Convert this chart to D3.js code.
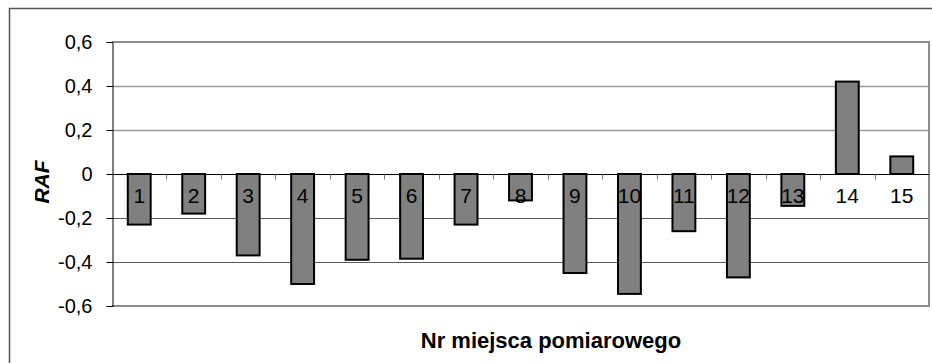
<!DOCTYPE html>
<html>
<head>
<meta charset="utf-8">
<script src="https://cdn.jsdelivr.net/npm/d3@7"></script>
<style>
  html, body { margin: 0; padding: 0; background: #fff; }
  svg { display: block; font-family: "Liberation Sans", Arial, sans-serif; }
</style>
</head>
<body>
<div id="chart"></div>
<script>
// ===== Data =====
const sites = ["1", "2", "3", "4", "5", "6", "7", "8", "9", "10", "11", "12", "13", "14", "15"];
const rafValues = [-0.23, -0.18, -0.37, -0.50, -0.39, -0.385, -0.23, -0.12, -0.45, -0.545, -0.26, -0.47, -0.145, 0.42, 0.08];
const yTicks = [-0.6, -0.4, -0.2, 0, 0.2, 0.4, 0.6];

const width = 932;
const height = 363;
const plot = { left: 112, top: 42, right: 929, bottom: 306 };

const fmtComma = d => d === 0 ? "0" : d.toFixed(1).replace(".", ",");

const svg = d3.select("#chart").append("svg")
  .attr("width", width)
  .attr("height", height);

// outer chart border (runs off the right/bottom edge)
svg.append("rect")
  .attr("x", 9.5).attr("y", 8.5)
  .attr("width", width + 20).attr("height", height + 20)
  .attr("fill", "none")
  .attr("stroke", "#555")
  .attr("stroke-width", 1.5);

const x = d3.scaleBand()
  .domain(sites)
  .range([plot.left, plot.right])
  .paddingInner(0.58)
  .paddingOuter(0.29);

// slots without padding, for the category tick marks
const slot = d3.scaleBand().domain(sites).range([plot.left, plot.right]).padding(0);

const y = d3.scaleLinear().domain([-0.6, 0.6]).range([plot.bottom, plot.top]);

// ===== Grid =====
const grid = svg.append("g");
yTicks.filter(t => t !== 0 && Math.abs(t) < 0.6).forEach(t => {
  grid.append("line")
    .attr("x1", plot.left).attr("x2", plot.right)
    .attr("y1", Math.round(y(t)) + 0.5).attr("y2", Math.round(y(t)) + 0.5)
    .attr("stroke", t > 0 ? "#9a9a9a" : "#5a5a5a")
    .attr("stroke-width", t > 0 ? 1.5 : 1);
});

// plot frame (gray) top/right/bottom
svg.append("path")
  .attr("d", `M${plot.left},${plot.top}H${plot.right}V${plot.bottom}H${plot.left}`)
  .attr("fill", "none")
  .attr("stroke", "#8c8c8c")
  .attr("stroke-width", 2);

// ===== Y axis =====
const yAxis = svg.append("g")
  .attr("transform", `translate(${plot.left + 0.5},0)`)
  .call(d3.axisLeft(y).tickValues(yTicks).tickSize(6).tickPadding(14).tickFormat(fmtComma));
yAxis.select(".domain").attr("stroke", "#000");
yAxis.selectAll(".tick line").attr("stroke", "#000");
yAxis.selectAll(".tick text")
  .attr("font-family", "'Liberation Sans', Arial, sans-serif")
  .attr("font-size", 20)
  .attr("fill", "#000");

svg.append("text")
  .attr("transform", `translate(42,182) rotate(-90)`)
  .attr("text-anchor", "middle")
  .attr("dy", "0.35em")
  .attr("font-size", 21)
  .attr("font-weight", "bold")
  .attr("font-style", "italic")
  .text("RAF");

// ===== Bars =====
svg.append("g").selectAll("rect")
  .data(sites)
  .join("rect")
  .attr("x", (d, i) => x(d))
  .attr("y", (d, i) => y(Math.max(0, rafValues[i])))
  .attr("width", x.bandwidth())
  .attr("height", (d, i) => Math.abs(y(rafValues[i]) - y(0)))
  .attr("fill", "#808080")
  .attr("stroke", "#000")
  .attr("stroke-width", 2);

// zero line + category ticks
const zeroY = Math.round(y(0)) + 0.5;
svg.append("line")
  .attr("x1", plot.left).attr("x2", plot.right)
  .attr("y1", zeroY).attr("y2", zeroY)
  .attr("stroke", "#000");

svg.append("g").selectAll("line")
  .data(sites.slice(1))
  .join("line")
  .attr("x1", d => Math.round(slot(d)) + 0.5)
  .attr("x2", d => Math.round(slot(d)) + 0.5)
  .attr("y1", zeroY).attr("y2", zeroY + 5)
  .attr("stroke", "#777");

// category labels
svg.append("g").selectAll("text")
  .data(sites)
  .join("text")
  .attr("x", d => x(d) + x.bandwidth() / 2)
  .attr("y", 203)
  .attr("text-anchor", "middle")
  .attr("font-size", 21)
  .attr("fill", "#000")
  .text(d => d);

// x title
svg.append("text")
  .attr("x", 551)
  .attr("y", 348)
  .attr("text-anchor", "middle")
  .attr("font-size", 22)
  .attr("font-weight", "bold")
  .text("Nr miejsca pomiarowego");
</script>
</body>
</html>
